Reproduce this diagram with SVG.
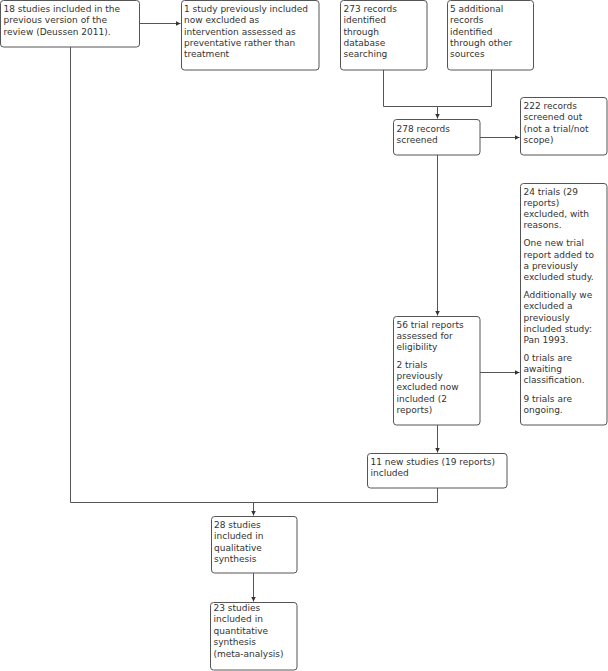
<svg xmlns="http://www.w3.org/2000/svg" width="608" height="671" viewBox="0 0 608 671">
<defs>
<marker id="arr" viewBox="0 0 6 6" refX="6" refY="3" markerWidth="5" markerHeight="5" orient="auto" markerUnits="userSpaceOnUse">
<path d="M0,0 L6,3 L0,6 z" fill="#333"/>
</marker>
<style>
.box{fill:#fff;stroke:#555;stroke-width:1}
.t{font-family:"DejaVu Sans","Verdana",sans-serif;font-size:9px;fill:#333}
.c{fill:none;stroke:#555;stroke-width:1}
.a{marker-end:url(#arr)}
</style>
</defs>
<rect width="608" height="671" fill="#fff"/>
<g id="connectors">
<path class="c a" d="M139.5,23.5 H180.5"/>
<path class="c" d="M383.5,70 V106.5 M491.5,70 V106.5 M383.5,106.5 H491.5"/>
<path class="c a" d="M437.5,106.5 V118.5"/>
<path class="c a" d="M480,137.5 H519.5"/>
<path class="c a" d="M437.5,155 V315.5"/>
<path class="c a" d="M480,372.5 H519.5"/>
<path class="c a" d="M437.5,425 V452.5"/>
<path class="c" d="M437.5,488 V502.5 H70.5 V47"/>
<path class="c a" d="M253.5,502.5 V515.5"/>
<path class="c a" d="M253.5,573 V601.5"/>
</g>
<g id="n1">
<rect class="box" x="0.5" y="0.5" width="139" height="46.5" rx="3"/>
<text class="t" x="3.5" y="12"><tspan x="3.5">18 studies included in the</tspan><tspan x="3.5" dy="11.3">previous version of the</tspan><tspan x="3.5" dy="11.3">review (Deussen 2011).</tspan></text>
</g>
<g id="n2">
<rect class="box" x="181.5" y="0.5" width="137.5" height="69.5" rx="3"/>
<text class="t" x="184" y="12"><tspan x="184">1 study previously included</tspan><tspan x="184" dy="11.3">now excluded as</tspan><tspan x="184" dy="11.3">intervention assessed as</tspan><tspan x="184" dy="11.3">preventative rather than</tspan><tspan x="184" dy="11.3">treatment</tspan></text>
</g>
<g id="n3">
<rect class="box" x="340.5" y="0.5" width="86.5" height="69.5" rx="3"/>
<text class="t" x="343.5" y="12"><tspan x="343.5">273 records</tspan><tspan x="343.5" dy="11.3">identified</tspan><tspan x="343.5" dy="11.3">through</tspan><tspan x="343.5" dy="11.3">database</tspan><tspan x="343.5" dy="11.3">searching</tspan></text>
</g>
<g id="n4">
<rect class="box" x="447.5" y="0.5" width="86" height="69.5" rx="3"/>
<text class="t" x="450" y="12"><tspan x="450">5 additional</tspan><tspan x="450" dy="11.3">records</tspan><tspan x="450" dy="11.3">identified</tspan><tspan x="450" dy="11.3">through other</tspan><tspan x="450" dy="11.3">sources</tspan></text>
</g>
<g id="n5">
<rect class="box" x="393.5" y="119.5" width="86.5" height="35.5" rx="3"/>
<text class="t" x="396.5" y="131.5"><tspan x="396.5">278 records</tspan><tspan x="396.5" dy="11.3">screened</tspan></text>
</g>
<g id="n6">
<rect class="box" x="520.5" y="97.5" width="86.5" height="57.5" rx="3"/>
<text class="t" x="523.5" y="109"><tspan x="523.5">222 records</tspan><tspan x="523.5" dy="11.3">screened out</tspan><tspan x="523.5" dy="11.3">(not a trial/not</tspan><tspan x="523.5" dy="11.3">scope)</tspan></text>
</g>
<g id="n7">
<rect class="box" x="520.5" y="183.5" width="86.5" height="241.5" rx="3"/>
<text class="t" x="523.5" y="194.5"><tspan x="523.5">24 trials (29</tspan><tspan x="523.5" dy="11.2">reports)</tspan><tspan x="523.5" dy="11.2">excluded, with</tspan><tspan x="523.5" dy="11.2">reasons.</tspan><tspan x="523.5" dy="18.2">One new trial</tspan><tspan x="523.5" dy="11.2">report added to</tspan><tspan x="523.5" dy="11.2">a previously</tspan><tspan x="523.5" dy="11.2">excluded study.</tspan><tspan x="523.5" dy="18.2">Additionally we</tspan><tspan x="523.5" dy="11.2">excluded a</tspan><tspan x="523.5" dy="11.2">previously</tspan><tspan x="523.5" dy="11.2">included study:</tspan><tspan x="523.5" dy="11.2">Pan 1993.</tspan><tspan x="523.5" dy="18.2">0 trials are</tspan><tspan x="523.5" dy="11.2">awaiting</tspan><tspan x="523.5" dy="11.2">classification.</tspan><tspan x="523.5" dy="18.2">9 trials are</tspan><tspan x="523.5" dy="11.2">ongoing.</tspan></text>
</g>
<g id="n8">
<rect class="box" x="393.5" y="316.5" width="86.5" height="108.5" rx="3"/>
<text class="t" x="396.5" y="327.5"><tspan x="396.5">56 trial reports</tspan><tspan x="396.5" dy="11.2">assessed for</tspan><tspan x="396.5" dy="11.2">eligibility</tspan><tspan x="396.5" dy="18">2 trials</tspan><tspan x="396.5" dy="11.2">previously</tspan><tspan x="396.5" dy="11.2">excluded now</tspan><tspan x="396.5" dy="11.2">included (2</tspan><tspan x="396.5" dy="11.2">reports)</tspan></text>
</g>
<g id="n9">
<rect class="box" x="367.5" y="453.5" width="139.5" height="34.5" rx="3"/>
<text class="t" x="370.5" y="465"><tspan x="370.5">11 new studies (19 reports)</tspan><tspan x="370.5" dy="11.3">included</tspan></text>
</g>
<g id="n10">
<rect class="box" x="211.5" y="516.5" width="85.5" height="56.5" rx="3"/>
<text class="t" x="214" y="528"><tspan x="214">28 studies</tspan><tspan x="214" dy="11.3">included in</tspan><tspan x="214" dy="11.3">qualitative</tspan><tspan x="214" dy="11.3">synthesis</tspan></text>
</g>
<g id="n11">
<rect class="box" x="210.5" y="602.5" width="86.5" height="67.5" rx="3"/>
<text class="t" x="213.5" y="611"><tspan x="213.5">23 studies</tspan><tspan x="213.5" dy="11.4">included in</tspan><tspan x="213.5" dy="11.4">quantitative</tspan><tspan x="213.5" dy="11.4">synthesis</tspan><tspan x="213.5" dy="11.4">(meta-analysis)</tspan></text>
</g>
</svg>
